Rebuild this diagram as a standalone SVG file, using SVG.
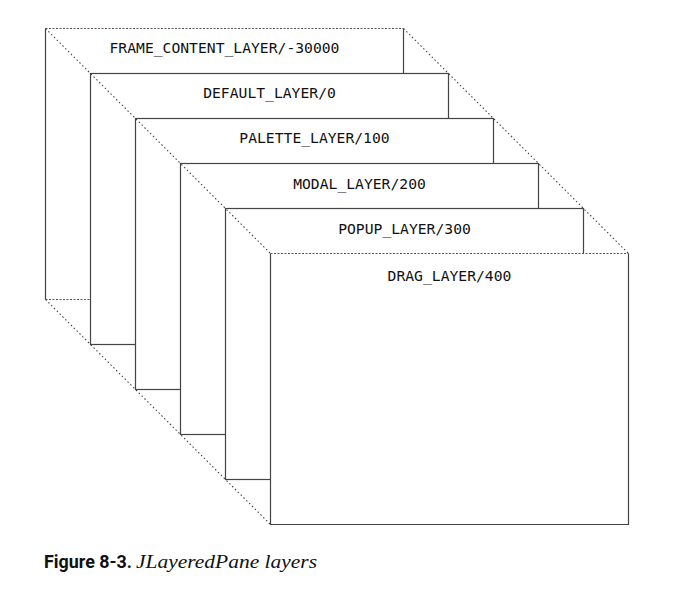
<svg xmlns="http://www.w3.org/2000/svg" width="677" height="590" viewBox="0 0 677 590">
<style>
.bg{fill:#fff;stroke:none}
.box{fill:#fff;stroke:#444;stroke-width:1.2}
.s{fill:none;stroke:#444;stroke-width:1.2}
.d{fill:none;stroke:#555;stroke-width:1.2;stroke-dasharray:2 1.5}
.dot{fill:none;stroke:#444;stroke-width:1.1;stroke-dasharray:1.5 2.5}
.lbl{font-family:"DejaVu Sans Mono","Liberation Mono",monospace;font-size:14.7px;fill:#111;text-anchor:middle}
</style>
<rect width="677" height="590" fill="#fff"/>
<g id="frame_content_layer">
<rect class="bg" x="45.5" y="28.5" width="358" height="271"/>
<path class="s" d="M45.5 28.5V299.5M403.5 28.5V299.5"/>
<path class="d" d="M45.5 28.5H403.5M45.5 299.5H403.5"/>
<text class="lbl" x="224.5" y="53">FRAME_CONTENT_LAYER/-30000</text>
</g>
<g id="default_layer">
<rect class="box" x="90.5" y="73.5" width="358" height="271"/>
<text class="lbl" x="269.5" y="98">DEFAULT_LAYER/0</text>
</g>
<g id="palette_layer">
<rect class="box" x="135.5" y="118.5" width="358" height="271"/>
<text class="lbl" x="314.5" y="143">PALETTE_LAYER/100</text>
</g>
<g id="modal_layer">
<rect class="box" x="180.5" y="163.5" width="358" height="271"/>
<text class="lbl" x="359.5" y="189">MODAL_LAYER/200</text>
</g>
<g id="popup_layer">
<rect class="box" x="225.5" y="208.5" width="358" height="271"/>
<text class="lbl" x="404.5" y="234">POPUP_LAYER/300</text>
</g>
<g id="drag_layer">
<rect class="bg" x="270.5" y="253.5" width="358" height="271"/>
<path class="s" d="M270.5 253.5V524.5H628.5V253.5" stroke="#222"/>
<path class="d" d="M270.5 253.5H628.5"/>
<text class="lbl" x="449.5" y="281">DRAG_LAYER/400</text>
</g>
<g id="connectors">
<path class="dot" d="M45.5 28.5L270.5 253.5"/>
<path class="dot" d="M403.5 28.5L628.5 253.5"/>
<path class="dot" d="M45.5 299.5L270.5 524.5"/>
</g>
<g id="caption">
<text x="44" y="568" font-family="Roboto,'Liberation Sans',sans-serif" font-weight="bold" font-size="17.5" fill="#111" textLength="88" lengthAdjust="spacingAndGlyphs">Figure 8-3.</text>
<text x="136" y="568" font-family="'Liberation Serif',serif" font-style="italic" font-size="19" fill="#111" textLength="181" lengthAdjust="spacingAndGlyphs">JLayeredPane layers</text>
</g>
</svg>
